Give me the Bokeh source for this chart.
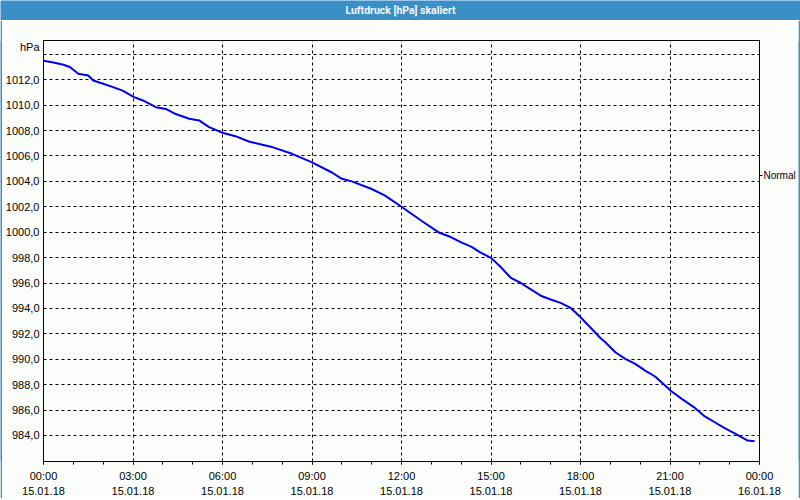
from bokeh.plotting import figure
from bokeh.layouts import column, row
from bokeh.models import Range1d, FixedTicker, LinearAxis
from bokeh.core.properties import value
from bokeh.embed import file_html
from bokeh.resources import INLINE

# ---------------- data ----------------
title_text = "Luftdruck [hPa] skaliert"
unit_label = "hPa"
series_label = "Normal"

times = ["00:00", "00:20", "00:40", "00:53", "01:10", "01:30", "01:40", "02:00",
         "02:20", "02:40", "03:01", "03:20", "03:46", "04:06", "04:26", "04:53",
         "05:13", "05:33", "06:00", "06:26", "06:53", "07:20", "07:40", "08:20",
         "09:00", "09:40", "10:00", "10:20", "11:00", "11:26", "12:00", "12:40",
         "13:14", "13:40", "14:00", "14:20", "14:40", "15:00", "15:20", "15:40",
         "16:00", "16:20", "16:40", "17:00", "17:20", "17:40", "18:00", "18:20",
         "18:40", "18:50", "19:10", "19:30", "19:50", "20:10", "20:30", "20:50",
         "21:02", "21:23", "21:50", "22:10", "22:30", "22:50", "23:10", "23:30",
         "23:36", "23:50"]
pressure = [1013.50, 1013.36, 1013.18, 1013.00, 1012.47, 1012.34, 1011.94, 1011.68,
            1011.42, 1011.12, 1010.65, 1010.37, 1009.84, 1009.70, 1009.30, 1008.93,
            1008.80, 1008.27, 1007.83, 1007.56, 1007.14, 1006.88, 1006.70, 1006.17,
            1005.50, 1004.70, 1004.20, 1004.00, 1003.40, 1002.90, 1002.00, 1000.90,
            1000.00, 999.60, 999.20, 998.87, 998.37, 997.98, 997.24, 996.40,
            996.00, 995.50, 995.00, 994.70, 994.44, 994.05, 993.30, 992.50,
            991.67, 991.34, 990.55, 990.03, 989.64, 989.10, 988.64, 987.93,
            987.50, 986.90, 986.17, 985.50, 985.04, 984.57, 984.17, 983.73,
            983.60, 983.54]

x_tick_times = ["00:00", "03:00", "06:00", "09:00", "12:00", "15:00", "18:00", "21:00", "00:00"]
x_tick_dates = ["15.01.18", "15.01.18", "15.01.18", "15.01.18", "15.01.18",
                "15.01.18", "15.01.18", "15.01.18", "16.01.18"]
y_ticks = [984, 986, 988, 990, 992, 994, 996, 998, 1000, 1002, 1004, 1006, 1008, 1010, 1012, 1014]
y_labeled_max = 1012
unit_label_pos = 1014.6
series_marker_value = 1004.5

# ---------------- styling ----------------
BLUE = "#3b8fc7"
BG = "#fbfdfb"
LINE = "#0000ee"
FONT = "Liberation Sans"

def minutes(t):
    h, m = t.split(":")
    return int(h) * 60 + int(m)

xs = [minutes(t) for t in times]
major_x = [i * 180 for i in range(len(x_tick_times))]
minor_x = [i * 60 for i in range(25)]

# title bar
tb = figure(width=800, height=20, x_range=Range1d(0, 800), y_range=Range1d(0, 20),
            x_axis_type=None, y_axis_type=None, min_border=0,
            toolbar_location=None, output_backend="svg",
            background_fill_color=BLUE, border_fill_color=BLUE, outline_line_color=None)
tb.text(x=[400], y=[10], text=[title_text], text_align="center", text_baseline="middle",
        text_color="#f4f8fc", text_font=value("Roboto"),
        text_font_style="bold", text_font_size="10.5px")

def strip(w, h):
    s = figure(width=w, height=h, x_axis_type=None, y_axis_type=None, min_border=0,
               toolbar_location=None, output_backend="svg",
               background_fill_color=BLUE, border_fill_color=BLUE, outline_line_color=None)
    s.scatter(x=[0], y=[0], size=0, alpha=0)
    return s

p = figure(width=796, height=478, x_range=Range1d(0, 1440), y_range=Range1d(981.95, 1015.09),
           toolbar_location=None, output_backend="svg",
           min_border_left=38, min_border_right=38, min_border_top=20, min_border_bottom=37,
           background_fill_color=BG, border_fill_color=BG,
           outline_line_color="black", outline_line_width=1)

p.line(xs, pressure, line_color=LINE, line_width=2)

# x axis (times)
xa = p.xaxis[0]
xa.ticker = FixedTicker(ticks=major_x, minor_ticks=minor_x)
xa.major_label_overrides = {t: lab for t, lab in zip(major_x, x_tick_times)}
xa.axis_line_color = "black"
xa.major_tick_line_color = "black"
xa.minor_tick_line_color = "black"
xa.major_tick_in = 0
xa.major_tick_out = 3
xa.minor_tick_in = 0
xa.minor_tick_out = 3
xa.major_label_standoff = 5
xa.major_label_text_font = FONT
xa.major_label_text_font_size = "11px"
xa.major_label_text_color = "black"

# second x axis (dates)
xd = LinearAxis(ticker=FixedTicker(ticks=major_x, minor_ticks=[]),
                major_label_overrides={t: lab for t, lab in zip(major_x, x_tick_dates)},
                axis_line_color=None, major_tick_line_color=None, minor_tick_line_color=None,
                major_tick_in=0, major_tick_out=0, major_label_standoff=2,
                major_label_text_font=FONT, major_label_text_font_size="11px",
                major_label_text_color="black")
p.add_layout(xd, "below")

# y axis (numeric labels plus the unit label at the top)
ya = p.yaxis[0]
ya.ticker = FixedTicker(ticks=y_ticks + [unit_label_pos], minor_ticks=[])
overrides = {v: (f"{v:.1f}".replace(".", ",") if v <= y_labeled_max else "") for v in y_ticks}
overrides[unit_label_pos] = unit_label
ya.major_label_overrides = overrides
ya.axis_line_color = "black"
ya.major_tick_line_color = None
ya.minor_tick_line_color = None
ya.major_tick_in = 0
ya.major_tick_out = 0
ya.major_label_standoff = 4
ya.major_label_text_font = FONT
ya.major_label_text_font_size = "11px"
ya.major_label_text_color = "black"

# right axis with series name
ra = LinearAxis(ticker=FixedTicker(ticks=[series_marker_value], minor_ticks=[]),
                major_label_overrides={series_marker_value: series_label},
                axis_line_color="black", major_tick_line_color="black",
                minor_tick_line_color=None, major_tick_in=0, major_tick_out=3,
                major_label_standoff=1, major_label_text_font=FONT,
                major_label_text_font_size="10px", major_label_text_color="black")
p.add_layout(ra, "right")

# grids
for g in (p.xgrid[0], p.ygrid[0]):
    g.grid_line_color = "black"
    g.grid_line_dash = "3 3"
    g.grid_line_width = 1
p.ygrid[0].ticker = FixedTicker(ticks=y_ticks)
p.xgrid[0].ticker = FixedTicker(ticks=major_x)

layout = column(tb, row(strip(2, 478), p, strip(2, 478)), strip(800, 2))

open("out.html", "w").write(file_html(layout, INLINE))
